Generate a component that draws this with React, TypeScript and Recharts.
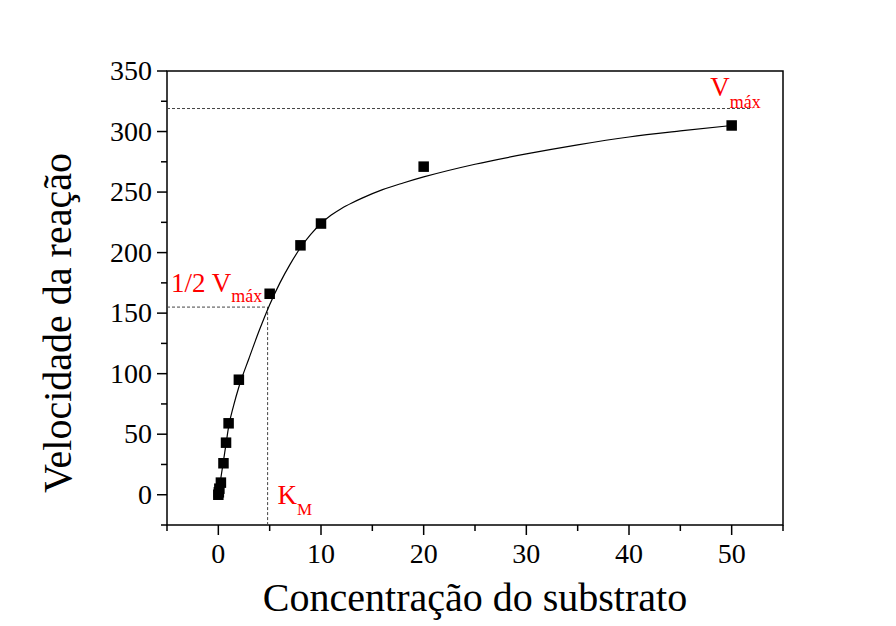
import React from 'react';
import {
  ComposedChart,
  XAxis,
  YAxis,
  Line,
  Scatter,
  ReferenceLine,
  ReferenceArea,
  Label,
} from 'recharts';

// Axis ticks
const xTicks = [-5, 0, 5, 10, 15, 20, 25, 30, 35, 40, 45, 50, 55];
const yTicks = [-25, 0, 25, 50, 75, 100, 125, 150, 175, 200, 225, 250, 275, 300, 325, 350];

// Measured points
const substrate = [0, 0.05, 0.1, 0.25, 0.5, 0.75, 1, 2, 5, 8, 10, 20, 50];
const velocity = [0, 2, 5, 10, 26, 43, 59, 95, 166, 206, 224, 271, 305];

// Fitted curve
const curveX = [0, 0.25, 0.5, 0.75, 1, 1.5, 2, 3, 4, 5, 6, 7, 8, 9, 10, 11, 12, 13, 14, 16, 18, 20, 25, 30, 35, 40, 45, 50];
const curveY = [0, 14, 28, 42, 56, 74, 89, 113, 136, 157, 175, 190.5, 204, 215, 224, 231, 236.5, 241, 245, 252, 257.5, 262.5, 273, 281.5, 289, 295.5, 300.5, 305];

// Reference values
const vMax = 319;
const halfVMax = 155;
const kM = 4.8;
const vMaxLineEnd = 52;

const points = substrate.map((x, i) => ({ x, y: velocity[i] }));
const curve = curveX.map((x, i) => ({ x, y: curveY[i] }));

const FONT = '"Liberation Serif", "Times New Roman", serif';
const RED = '#ff0000';
const DASH = '#444';

const XTick = (props: any) => {
  const { x, y, payload } = props;
  const v = payload.value;
  const major = v % 10 === 0;
  return (
    <g>
      <line x1={x} y1={y} x2={x} y2={y + (major ? 10 : 6)} stroke="#000" strokeWidth={1.5} />
      {major && (
        <text x={x} y={y + 38} textAnchor="middle" fontFamily={FONT} fontSize={28} fill="#000">
          {v}
        </text>
      )}
    </g>
  );
};

const YTick = (props: any) => {
  const { x, y, payload } = props;
  const v = payload.value;
  const major = v % 50 === 0;
  return (
    <g>
      <line x1={x} y1={y} x2={x - (major ? 10 : 6)} y2={y} stroke="#000" strokeWidth={1.5} />
      {major && (
        <text x={x - 15} y={y + 9} textAnchor="end" fontFamily={FONT} fontSize={28} fill="#000">
          {v}
        </text>
      )}
    </g>
  );
};

const Square = (props: any) => {
  const { cx, cy } = props;
  const s = 10.5;
  return <rect x={cx - s / 2} y={cy - s / 2} width={s} height={s} fill="#000" />;
};

const vMaxLabel = (props: any) => {
  const { viewBox } = props;
  const right = viewBox.x + viewBox.width;
  return (
    <text x={right - 42} y={viewBox.y - 12.5} fontFamily={FONT} fill={RED} fontSize={27}>
      <tspan>V</tspan>
      <tspan fontSize={18} dy={11.5}>máx</tspan>
    </text>
  );
};

const halfLabel = (props: any) => {
  const { viewBox } = props;
  return (
    <text x={viewBox.x + 4} y={viewBox.y - 15.5} fontFamily={FONT} fill={RED} fontSize={27}>
      <tspan>1/2 V</tspan>
      <tspan fontSize={18} dy={10}>máx</tspan>
    </text>
  );
};

const kmLabel = (props: any) => {
  const { viewBox } = props;
  return (
    <text x={viewBox.x + 10} y={viewBox.y + viewBox.height - 21} fontFamily={FONT} fill={RED} fontSize={27}>
      <tspan>K</tspan>
      <tspan fontSize={17} dy={10.5}>M</tspan>
    </text>
  );
};

const xTitle = (props: any) => {
  const { viewBox } = props;
  return (
    <text x={viewBox.x + viewBox.width / 2} y={viewBox.y + 86} textAnchor="middle" fontFamily={FONT} fontSize={40} fill="#000">
      Concentração do substrato
    </text>
  );
};

const yTitle = (props: any) => {
  const { viewBox } = props;
  const cx = viewBox.x + 71;
  const cy = viewBox.y + 252;
  return (
    <text x={cx} y={cy} textAnchor="middle" fontFamily={FONT} fontSize={40} fill="#000" transform={`rotate(-90, ${cx}, ${cy})`}>
      Velocidade da reação
    </text>
  );
};

export default function App() {
  return (
    <div style={{ position: 'absolute', left: 0, top: 0, background: '#fff' }}>
      <ComposedChart width={896} height={626} margin={{ top: 71, right: 113, bottom: 0, left: 0 }}>
        <XAxis
          type="number"
          dataKey="x"
          domain={[-5, 55]}
          ticks={xTicks}
          interval={0}
          allowDataOverflow
          height={101}
          axisLine={false}
          tickLine={false}
          tickSize={0}
          tickMargin={0}
          tick={(p: any) => <XTick {...p} />}
        >
          <Label content={xTitle} />
        </XAxis>
        <YAxis
          type="number"
          dataKey="y"
          domain={[-25, 350]}
          ticks={yTicks}
          interval={0}
          allowDataOverflow
          width={167}
          axisLine={false}
          tickLine={false}
          tickSize={0}
          tickMargin={0}
          tick={(p: any) => <YTick {...p} />}
        >
          <Label content={yTitle} />
        </YAxis>
        <ReferenceArea x1={-5} x2={55} y1={-25} y2={350} fill="none" stroke="#000" strokeWidth={1.5} />
        <ReferenceLine
          segment={[{ x: -5, y: vMax }, { x: vMaxLineEnd, y: vMax }]}
          stroke={DASH}
          strokeWidth={1}
          strokeDasharray="3 2"
          label={vMaxLabel}
        />
        <ReferenceLine
          segment={[{ x: -5, y: halfVMax }, { x: kM, y: halfVMax }]}
          stroke={DASH}
          strokeWidth={1}
          strokeDasharray="3 2"
          label={halfLabel}
        />
        <ReferenceLine
          segment={[{ x: kM, y: halfVMax }, { x: kM, y: -25 }]}
          stroke={DASH}
          strokeWidth={1}
          strokeDasharray="3 2"
          label={kmLabel}
        />
        <Line
          data={curve}
          dataKey="y"
          type="monotone"
          stroke="#000"
          strokeWidth={1.2}
          dot={false}
          activeDot={false}
          isAnimationActive={false}
        />
        <Scatter data={points} dataKey="y" shape={Square} isAnimationActive={false} />
      </ComposedChart>
    </div>
  );
}
